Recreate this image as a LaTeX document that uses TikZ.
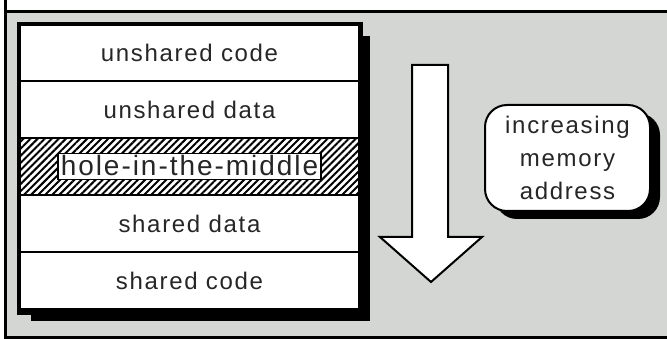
\documentclass[tikz,border=0pt]{standalone}
\usepackage{fontspec}
\setmainfont{Liberation Sans}[LetterSpace=7]
\usetikzlibrary{positioning, patterns.meta, shadows}
\definecolor{panelgray}{RGB}{212,214,211}
\definecolor{ink}{RGB}{38,38,38}

\tikzset{
  memframe/.style={draw, line width=3.5, fill=white, minimum width=339, minimum height=285,
    drop shadow={shadow xshift=11pt, shadow yshift=-10pt, fill=black, opacity=1}},
  row/.style={draw, line width=2.5, fill=white, minimum width=339, minimum height=57,
    outer sep=0, inner sep=0, text=ink, font=\fontsize{24}{28}\selectfont},
  holerow/.style={row, preaction={fill=white},
    pattern={Lines[angle=45, distance=5pt, line width=2pt]}},
  holelabel/.style={draw, line width=1.5, fill=white, inner xsep=3, inner ysep=2,
    text height=20, text depth=2, text=ink, font=\fontsize{28}{32}\selectfont},
  addrbox/.style={draw, line width=2, fill=white, rounded corners=22, align=center,
    minimum width=165, minimum height=106, text=ink, font=\fontsize{24}{33}\selectfont,
    drop shadow={shadow xshift=10pt, shadow yshift=-8pt, fill=black, opacity=1}}
}

\begin{document}
\begin{tikzpicture}[x=1pt, y=-1pt]
  \useasboundingbox (0,0) rectangle (667,339);
  \fill[white] (0,0) rectangle (667,339);
  \fill[panelgray] (5,12) rectangle (667,337);
  \draw[line width=3] (667,12) -- (5,12);
  \draw[line width=3] (5,0) -- (5,337) -- (667,337);

  \node[memframe] (mem) at (189.5,168.5) {};
  \node[row, below=0pt of mem.north] (ucode) {unshared code};
  \node[row, below=0pt of ucode] (udata) {unshared data};
  \node[holerow, below=0pt of udata] (hole) {};
  \node[holelabel] (holetxt) at (hole) {hole-in-the-middle};
  \node[row, below=0pt of hole] (sdata) {shared data};
  \node[row, below=0pt of sdata] (scode) {shared code};
  \draw[line width=3.5] (mem.south west) rectangle (mem.north east);

  \draw[line width=2, fill=white] (412,65) -- (448,65) -- (448,237) -- (482,237)
    -- (431,282) -- (380,237) -- (412,237) -- cycle;

  \node[addrbox] (addr) at (567.5,158) {increasing\\memory\\address};
\end{tikzpicture}
\end{document}
